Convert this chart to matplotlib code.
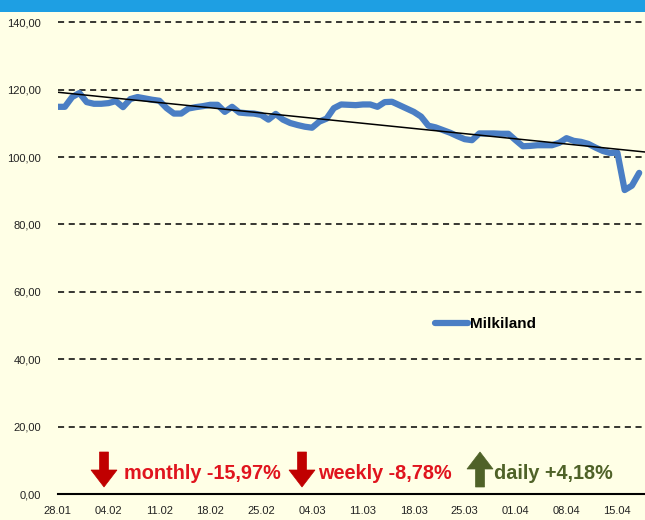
import numpy as np
import pandas as pd
import matplotlib
matplotlib.use("Agg")
import matplotlib.pyplot as plt
from matplotlib.patches import Polygon, Rectangle

# daily index values, starting 28.01
values = [114.9, 114.9, 117.8, 119.0, 116.3, 115.8, 115.8, 116.0, 116.6, 114.8,
          117.2, 117.8, 117.4, 117.0, 116.7, 114.5, 112.9, 112.9, 114.4, 114.8,
          115.1, 115.5, 115.5, 113.4, 114.9, 113.2, 113.0, 112.9, 112.5, 111.1,
          112.8, 111.1, 110.1, 109.5, 109.0, 108.7, 110.5, 111.4, 114.5, 115.6,
          115.5, 115.4, 115.6, 115.6, 114.9, 116.3, 116.4, 115.4, 114.4, 113.4,
          112.0, 109.3, 108.8, 108.0, 107.2, 106.2, 105.3, 105.0, 107.0, 107.0,
          107.0, 106.9, 106.9, 105.0, 103.2, 103.3, 103.5, 103.5, 103.5, 104.2,
          105.6, 104.8, 104.5, 103.9, 102.8, 101.8, 101.2, 101.3, 90.2, 91.5,
          95.3]
dates = pd.date_range("2019-01-28", periods=len(values), freq="D")
tick_labels = ["28.01", "04.02", "11.02", "18.02", "25.02", "04.03",
               "11.03", "18.03", "25.03", "01.04", "08.04", "15.04"]
y_ticks = [0, 20, 40, 60, 80, 100, 120, 140]
changes = [("monthly -15,97%", "down"), ("weekly -8,78%", "down"), ("daily +4,18%", "up")]

bg = "#FFFFE6"
narrow = ["Liberation Sans Narrow", "Liberation Sans", "DejaVu Sans"]

W, H = 645, 520
fig = plt.figure(figsize=(W / 100, H / 100), dpi=100, facecolor=bg)
ax = fig.add_axes([57.6 / W, 26 / H, 1 - 57.6 / W, 478.5 / H], facecolor=bg)

x = np.arange(len(values))
ax.plot(dates, values, color="#4A7EC4", lw=4.5, solid_capstyle="round",
        solid_joinstyle="round", label="Milkiland", zorder=3)

# linear trend
k, b = np.polyfit(x, values, 1)
tx = np.array([0, 81])
ax.plot(dates[0] + pd.to_timedelta(tx, unit="D"), k * tx + b, color="black", lw=1.1, zorder=4)

ax.set_ylim(0, 142)
ax.set_xlim(dates[0], dates[0] + pd.Timedelta(days=80.8))
ax.set_yticks(y_ticks)
ax.set_yticklabels([f"{v},00" for v in y_ticks], family=narrow, fontsize=8, color="#222222")
ax.set_xticks(dates[::7][:len(tick_labels)])
ax.set_xticklabels(tick_labels, family=narrow, fontsize=8, color="#222222")
ax.tick_params(axis="y", length=0, pad=12)
ax.tick_params(axis="x", length=0, pad=9)
for v in y_ticks[1:]:
    ax.axhline(v, color="black", lw=1.1, ls=(0, (4, 3)), zorder=1)
for s in ["left", "right", "top"]:
    ax.spines[s].set_visible(False)
ax.spines["bottom"].set_linewidth(1.5)

leg = ax.legend(loc="center", bbox_to_anchor=(0.728, 0.355), frameon=False,
                handlelength=2.2, handletextpad=0.1,
                prop={"family": "Liberation Sans", "weight": "bold", "size": 11})


def px(xp, yp):
    return xp / W, (H - yp) / H


def arrow(xc, ytop, ybot, down, color):
    sw, hw, hl = 4.5, 13, 17
    if down:
        pts = [(xc - sw, ytop), (xc + sw, ytop), (xc + sw, ybot - hl), (xc + hw, ybot - hl),
               (xc, ybot), (xc - hw, ybot - hl), (xc - sw, ybot - hl)]
    else:
        pts = [(xc - sw, ybot), (xc + sw, ybot), (xc + sw, ytop + hl), (xc + hw, ytop + hl),
               (xc, ytop), (xc - hw, ytop + hl), (xc - sw, ytop + hl)]
    fig.add_artist(Polygon([px(*p) for p in pts], closed=True, transform=fig.transFigure,
                           facecolor=color, edgecolor=color, lw=0.5))


layout = [(104, 124, "#C00000", "#E0141E"), (302, 318, "#C00000", "#E0141E"),
          (480, 494, "#4F6228", "#4F6228")]
for (txt, d), (ax_x, tx_x, acol, tcol) in zip(changes, layout):
    arrow(ax_x, 452, 487, d == "down", acol)
    fig.text(*px(tx_x, 479), txt, family=narrow, fontsize=14.3, fontweight="bold",
             color=tcol, ha="left", va="baseline")

# title band (cut off at top)
fig.add_artist(Rectangle(px(0, 12), 1, 12 / H, transform=fig.transFigure,
                         facecolor="#1E9FE3", edgecolor="none"))

fig.savefig("out.png", dpi=100, facecolor=bg)
